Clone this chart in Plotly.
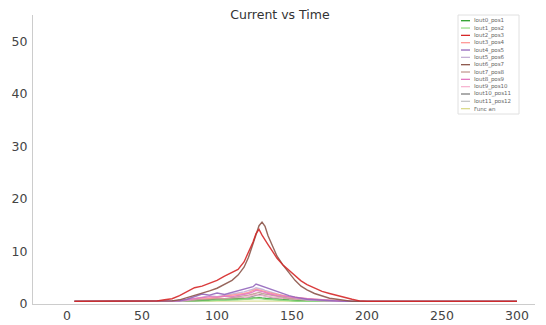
import plotly.graph_objects as go

# ---- data ----
time = [5, 15, 25, 35, 45, 55, 60, 65, 70, 75, 80, 85, 90, 95, 100, 105, 110, 114, 118, 121,
        124, 126, 128, 130, 132, 134, 137, 140, 144, 148, 152, 156, 160, 165, 170, 175, 180,
        185, 190, 195, 200, 210, 220, 230, 240, 250, 260, 270, 280, 290, 300]

series_names = ["Iout0_pos1", "Iout1_pos2", "Iout2_pos3", "Iout3_pos4", "Iout4_pos5",
                "Iout5_pos6", "Iout6_pos7", "Iout7_pos8", "Iout8_pos9", "Iout9_pos10",
                "Iout10_pos11", "Iout11_pos12", "Func an"]

iout0_pos1 = [0.5, 0.5, 0.5, 0.5, 0.5, 0.5, 0.5, 0.5, 0.5, 0.5, 0.5,
              0.6, 0.7, 0.7, 0.8, 0.8, 0.9, 0.9, 1.0, 1.0, 1.1, 1.2, 1.2, 1.1, 1.0, 1.0, 0.9,
              0.8, 0.8, 0.7, 0.6, 0.6,
              0.5, 0.5, 0.5, 0.5, 0.5, 0.5, 0.5, 0.5, 0.5, 0.5, 0.5, 0.5, 0.5, 0.5, 0.5, 0.5,
              0.5, 0.5, 0.5]
iout1_pos2 = [0.5, 0.5, 0.5, 0.5, 0.5, 0.5, 0.5, 0.5, 0.5, 0.5, 0.5, 0.5,
              0.6, 0.6, 0.7, 0.7, 0.8, 0.8, 0.9, 0.9, 1.0, 1.1, 1.1, 1.0, 0.9, 0.9, 0.8, 0.8,
              0.7, 0.6, 0.6,
              0.5, 0.5, 0.5, 0.5, 0.5, 0.5, 0.5, 0.5, 0.5, 0.5, 0.5, 0.5, 0.5, 0.5, 0.5, 0.5,
              0.5, 0.5, 0.5, 0.5]
iout2_pos3 = [0.5, 0.5, 0.5, 0.5, 0.5, 0.5,
              0.6, 0.8, 1.0, 1.6, 2.3, 3.1, 3.4, 3.9, 4.5, 5.3, 6.0, 6.6, 8.0, 9.8, 11.8, 13.4,
              14.2, 13.1, 12.1, 11.3, 10.0, 8.7, 7.4, 6.4, 5.3, 4.4, 3.7, 3.0, 2.4, 2.0, 1.6,
              1.2, 0.9, 0.6, 0.5,
              0.5, 0.5, 0.5, 0.5, 0.5, 0.5, 0.5, 0.5, 0.5, 0.5]
iout3_pos4 = [0.5, 0.5, 0.5, 0.5, 0.5, 0.5, 0.5, 0.5, 0.5,
              0.7, 0.9, 1.1, 1.2, 1.1, 1.3, 1.4, 1.6, 1.8, 2.0, 2.2, 2.5, 2.8, 2.7, 2.5, 2.3,
              2.2, 2.0, 1.8, 1.6, 1.4, 1.3, 1.1, 1.0, 0.9, 0.8, 0.7, 0.6,
              0.5, 0.5, 0.5, 0.5, 0.5, 0.5, 0.5, 0.5, 0.5, 0.5, 0.5, 0.5, 0.5, 0.5]
iout4_pos5 = [0.5, 0.5, 0.5, 0.5, 0.5, 0.5, 0.5, 0.5, 0.5,
              0.6, 0.9, 1.4, 1.9, 1.7, 2.1, 1.8, 2.2, 2.4, 2.7, 3.0, 3.3, 3.8, 3.6, 3.4, 3.1,
              2.9, 2.6, 2.3, 1.9, 1.6, 1.3, 1.1, 0.9, 0.8, 0.7, 0.6,
              0.5, 0.5, 0.5, 0.5, 0.5, 0.5, 0.5, 0.5, 0.5, 0.5, 0.5, 0.5, 0.5, 0.5, 0.5]
iout5_pos6 = [0.5, 0.5, 0.5, 0.5, 0.5, 0.5, 0.5, 0.5, 0.5, 0.5,
              0.7, 1.0, 1.3, 1.6, 1.4, 1.7, 1.9, 2.1, 2.3, 2.5, 2.8, 3.1, 3.0, 2.8, 2.6, 2.4,
              2.1, 1.9, 1.6, 1.4, 1.2, 1.0, 0.8, 0.7, 0.6,
              0.5, 0.5, 0.5, 0.5, 0.5, 0.5, 0.5, 0.5, 0.5, 0.5, 0.5, 0.5, 0.5, 0.5, 0.5, 0.5]
iout6_pos7 = [0.5, 0.5, 0.5, 0.5, 0.5, 0.5, 0.5, 0.5,
              0.6, 0.8, 1.2, 1.6, 2.0, 2.5, 3.0, 3.7, 4.5, 5.5, 7.0, 8.9, 11.3, 13.2, 14.9,
              15.6, 14.8, 13.0, 10.9, 9.1, 7.4, 5.9, 4.5, 3.4, 2.7, 2.0, 1.5, 1.1, 0.9, 0.7,
              0.5,
              0.5, 0.5, 0.5, 0.5, 0.5, 0.5, 0.5, 0.5, 0.5, 0.5, 0.5, 0.5]
iout7_pos8 = [0.5, 0.5, 0.5, 0.5, 0.5, 0.5, 0.5, 0.5, 0.5, 0.5,
              0.6, 0.8, 0.9, 1.0, 1.1, 1.0, 1.2, 1.3, 1.5, 1.7, 1.9, 2.1, 2.2, 2.0, 1.9, 1.7,
              1.6, 1.4, 1.3, 1.1, 1.0, 0.9, 0.8, 0.7, 0.6,
              0.5, 0.5, 0.5, 0.5, 0.5, 0.5, 0.5, 0.5, 0.5, 0.5, 0.5, 0.5, 0.5, 0.5, 0.5, 0.5]
iout8_pos9 = [0.5, 0.5, 0.5, 0.5, 0.5, 0.5, 0.5, 0.5, 0.5,
              0.6, 0.8, 1.0, 1.2, 1.4, 1.3, 1.5, 1.4, 1.6, 1.8, 2.0, 2.3, 2.6, 2.5, 2.4, 2.2,
              2.0, 1.8, 1.6, 1.5, 1.3, 1.2, 1.1, 1.0, 0.9, 0.8, 0.7, 0.6,
              0.5, 0.5, 0.5, 0.5, 0.5, 0.5, 0.5, 0.5, 0.5, 0.5, 0.5, 0.5, 0.5, 0.5]
iout9_pos10 = [0.5, 0.5, 0.5, 0.5, 0.5, 0.5, 0.5, 0.5, 0.5, 0.5, 0.5,
               0.6, 0.7, 0.8, 0.9, 1.0, 1.0, 1.1, 1.2, 1.4, 1.6, 1.8, 1.7, 1.6, 1.5, 1.4, 1.3,
               1.2, 1.0, 0.9, 0.8, 0.7, 0.6,
               0.5, 0.5, 0.5, 0.5, 0.5, 0.5, 0.5, 0.5, 0.5, 0.5, 0.5, 0.5, 0.5, 0.5, 0.5, 0.5,
               0.5, 0.5]
iout10_pos11 = [0.5, 0.5, 0.5, 0.5, 0.5, 0.5, 0.5, 0.5, 0.5, 0.5,
                0.6, 0.7, 0.8, 0.8, 0.9, 0.9, 1.0, 1.1, 1.2, 1.3, 1.5, 1.7, 1.8, 1.7, 1.5, 1.4,
                1.2, 1.1, 1.0, 0.9, 0.8, 0.7, 0.6,
                0.5, 0.5, 0.5, 0.5, 0.5, 0.5, 0.5, 0.5, 0.5, 0.5, 0.5, 0.5, 0.5, 0.5, 0.5, 0.5,
                0.5, 0.5]
iout11_pos12 = [0.5, 0.5, 0.5, 0.5, 0.5, 0.5, 0.5, 0.5, 0.5, 0.5, 0.5,
                0.6, 0.6, 0.7, 0.7, 0.8, 0.8, 0.9, 1.0, 1.1, 1.2, 1.3, 1.3, 1.2, 1.1, 1.0, 0.9,
                0.9, 0.8, 0.7, 0.7, 0.6, 0.6,
                0.5, 0.5, 0.5, 0.5, 0.5, 0.5, 0.5, 0.5, 0.5, 0.5, 0.5, 0.5, 0.5, 0.5, 0.5, 0.5,
                0.5, 0.5]
func_an = [0.55, 0.55, 0.55, 0.55, 0.55, 0.55, 0.55, 0.55, 0.55, 0.55, 0.55, 0.55, 0.55,
           0.55, 0.55, 0.55, 0.55, 0.55, 0.55, 0.55, 0.55, 0.55, 0.55, 0.55, 0.55, 0.55,
           0.55, 0.55, 0.55, 0.55, 0.55, 0.55, 0.55, 0.55, 0.55, 0.55, 0.55, 0.55, 0.55,
           0.55, 0.55, 0.55, 0.55, 0.55, 0.55, 0.55, 0.55, 0.55, 0.55, 0.55, 0.55]

all_series = [iout0_pos1, iout1_pos2, iout2_pos3, iout3_pos4, iout4_pos5, iout5_pos6,
              iout6_pos7, iout7_pos8, iout8_pos9, iout9_pos10, iout10_pos11, iout11_pos12,
              func_an]

y_ticks = [0, 10, 20, 30, 40, 50]
x_ticks = [0, 50, 100, 150, 200, 250, 300]

colors = ["#2ca02c", "#98df8a", "#d62728", "#ff9896", "#9467bd", "#c5b0d5", "#8c564b",
          "#c49c94", "#e377c2", "#f7b6d2", "#7f7f7f", "#c7c7c7", "#dbdb8d"]

# ---- figure ----
# The page places the figure 8px in from the top-left (browser body margin),
# so the figure is sized/laid out in screen coordinates minus that offset.
OFF = 8
W, H = 546 - OFF, 325 - OFF
L, R, T, B = 33 - OFF, 11, 15 - OFF, 21

fig = go.Figure()
draw_order = [12, 11, 10, 9, 0, 1, 7, 5, 3, 8, 4, 6, 2]
for i in draw_order:
    fig.add_trace(go.Scatter(x=time, y=all_series[i], mode="lines", name=series_names[i],
                             line=dict(color=colors[i], width=1.4), opacity=0.9,
                             showlegend=False))

pw, ph = W - L - R, H - T - B


def px_x(p):  # screen px -> paper
    return (p - OFF - L) / pw


def px_y(p):  # screen px -> paper
    return (H - B - (p - OFF)) / ph


shapes = [dict(type="rect", xref="paper", yref="paper",
               x0=px_x(458), x1=px_x(519), y0=px_y(114), y1=px_y(15),
               fillcolor="white", line=dict(color="#e0e0e0", width=1), layer="above")]
annotations = []
for i, name in enumerate(series_names):
    yy = 20.7 + 7.33 * i
    shapes.append(dict(type="line", xref="paper", yref="paper",
                       x0=px_x(461), x1=px_x(470), y0=px_y(yy), y1=px_y(yy),
                       line=dict(color=colors[i], width=1.3), layer="above"))
    annotations.append(dict(xref="paper", yref="paper", x=px_x(472), y=px_y(yy),
                            text=name, showarrow=False, xanchor="left", yanchor="middle",
                            font=dict(family="DejaVu Sans", size=5.5, color="#666")))

fig.update_layout(
    template="none",
    width=W, height=H,
    margin=dict(l=L, r=R, t=T, b=B, pad=0, autoexpand=False),
    paper_bgcolor="white", plot_bgcolor="white",
    title=dict(text="Current vs Time", x=(280 - OFF) / W, xanchor="center",
               y=1 - 2 / H, yanchor="top", yref="container", automargin=False,
               font=dict(family="DejaVu Sans", size=12.5, color="#333")),
    font=dict(family="DejaVu Sans", size=12.5, color="#444"),
    xaxis=dict(range=[-22.7, 312], tickvals=x_ticks, showgrid=False, zeroline=False,
               showline=True, linecolor="#cccccc", linewidth=1, ticks="", automargin=False,
               tickfont=dict(size=12.5, color="#444")),
    yaxis=dict(range=[0, 55], tickvals=y_ticks, showgrid=False, zeroline=False,
               showline=True, linecolor="#cccccc", linewidth=1, ticks="", automargin=False,
               ticklabelstandoff=2,
               tickfont=dict(size=12.5, color="#444")),
    shapes=shapes, annotations=annotations,
    showlegend=False,
)

fig.write_html("out.html")
